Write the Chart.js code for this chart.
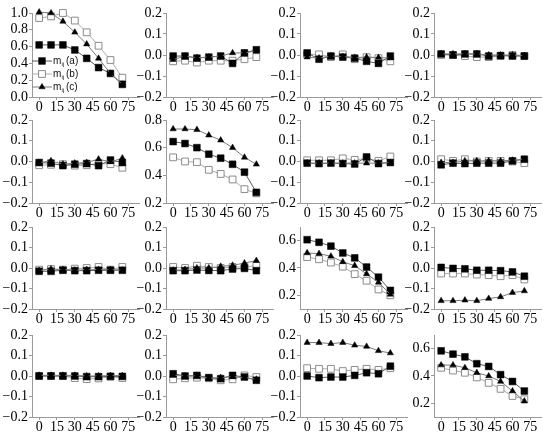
<!DOCTYPE html>
<html><head><meta charset="utf-8">
<script src="https://cdn.jsdelivr.net/npm/chart.js@4/dist/chart.umd.min.js"></script>
<style>
html,body{margin:0;padding:0;background:#fff;width:550px;height:436px;overflow:hidden}
#wrap{position:relative;width:550px;height:436px}
canvas{position:absolute}
</style></head><body><div id="wrap"></div>
<script>
// x positions (angle) and tick labels
const xValues = [0,10,20,30,40,50,60,70];
const xTicks = [0,15,30,45,60,75];
const xRange = [-6, 84];

// y ranges / ticks
const yRangeSmall = [-0.2, 0.2];
const yTicksSmall = [-0.2,-0.1,0.0,0.1,0.2];
const yRangeUnit = [0.0, 1.0];
const yTicksUnit = [0.0,0.2,0.4,0.6,0.8,1.0];
const yRangeMid = [0.2, 0.8];
const yTicksMid = [0.2,0.4,0.6,0.8];
const yRangeLow = [0.1, 0.7];
const yTicksLow = [0.2,0.4,0.6];

// series: m_ij(a) black squares, m_ij(b) open squares, m_ij(c) triangles
const p11_a = [0.62,0.62,0.62,0.56,0.46,0.35,0.28,0.15];
const p11_b = [0.94,0.96,1.0,0.91,0.77,0.61,0.44,0.23];
const p11_c = [1.01,1.0,0.9,0.77,0.63,0.46,0.28,0.15];

const p12_a = [-0.005,-0.005,-0.015,-0.01,-0.005,-0.04,0.01,0.025];
const p12_b = [-0.03,-0.027,-0.036,-0.027,-0.027,-0.027,-0.02,-0.01];
const p12_c = [-0.022,-0.005,-0.013,-0.01,-0.005,0.01,0.01,0.02];

const p13_a = [0.01,-0.02,-0.005,-0.01,-0.015,-0.03,-0.04,-0.005];
const p13_b = [0.003,0.003,-0.01,0.003,-0.02,-0.01,-0.015,-0.03];
const p13_c = [-0.01,-0.015,-0.005,-0.008,-0.012,-0.01,-0.012,-0.015];

const p14_a = [0.005,0.0,0.005,0.005,-0.005,-0.003,-0.005,-0.005];
const p14_b = [0.0,0.0,-0.005,-0.01,-0.01,-0.005,0.0,-0.005];
const p14_c = [0.005,0.005,0.005,0.005,0.0,0.0,0.0,-0.003];

const p21_a = [-0.005,-0.008,-0.02,-0.013,-0.01,-0.02,0.007,-0.005];
const p21_b = [-0.018,-0.016,-0.013,-0.02,-0.018,-0.008,-0.013,-0.03];
const p21_c = [-0.005,0.003,-0.013,-0.008,-0.005,0.011,-0.002,0.016];

const p22_a = [0.644,0.63,0.60,0.553,0.524,0.48,0.423,0.277];
const p22_b = [0.53,0.50,0.495,0.44,0.41,0.37,0.30,0.27];
const p22_c = [0.735,0.735,0.73,0.69,0.654,0.60,0.53,0.48];

const p23_a = [-0.008,-0.01,-0.008,-0.01,-0.012,0.022,-0.01,-0.005];
const p23_b = [0.006,0.006,0.006,0.015,0.008,0.015,0.003,0.024];
const p23_c = [-0.008,-0.008,-0.008,-0.008,-0.008,-0.008,-0.008,-0.005];

const p24_a = [-0.016,-0.008,-0.01,-0.008,-0.008,-0.008,0.003,0.011];
const p24_b = [0.011,0.003,0.011,0.0,0.003,0.003,0.0,-0.008];
const p24_c = [-0.005,-0.005,0.003,0.003,0.003,0.003,0.006,0.011];

const p31_a = [-0.016,-0.016,-0.011,-0.013,-0.013,-0.011,-0.011,-0.011];
const p31_b = [-0.008,-0.005,-0.008,-0.003,0.0,0.005,-0.008,0.005];
const p31_c = [-0.013,-0.005,-0.008,-0.011,-0.008,-0.008,-0.008,-0.011];

const p32_a = [-0.013,-0.013,-0.01,-0.012,-0.013,-0.005,-0.002,-0.013];
const p32_b = [0.005,0.0,0.011,0.005,0.0,0.005,0.005,0.011];
const p32_c = [-0.011,-0.008,0.0,0.0,0.008,0.013,0.024,0.036];

const p33_a = [0.607,0.588,0.56,0.51,0.474,0.407,0.333,0.236];
const p33_b = [0.48,0.464,0.44,0.41,0.355,0.307,0.243,0.2];
const p33_c = [0.51,0.505,0.486,0.445,0.417,0.357,0.295,0.207];

const p34_a = [0.003,-0.002,-0.004,-0.011,-0.011,-0.013,-0.019,-0.04];
const p34_b = [-0.027,-0.027,-0.027,-0.032,-0.035,-0.04,-0.035,-0.056];
const p34_c = [-0.16,-0.16,-0.157,-0.16,-0.149,-0.141,-0.12,-0.112];

const p41_a = [0.0,0.0,0.0,0.0,-0.003,-0.003,-0.002,-0.002];
const p41_b = [0.0,0.0,0.0,-0.01,-0.015,-0.012,-0.003,-0.01];
const p41_c = [0.003,0.003,0.003,0.003,0.0,0.0,0.002,0.002];

const p42_a = [0.011,0.0,0.003,-0.008,-0.013,0.003,-0.005,-0.021];
const p42_b = [-0.016,-0.011,-0.008,-0.011,-0.021,-0.016,0.003,-0.005];
const p42_c = [0.003,0.0,0.0,-0.011,-0.008,-0.003,-0.008,-0.016];

const p43_a = [0.0,-0.008,-0.005,-0.005,0.003,0.016,0.011,0.048];
const p43_b = [0.038,0.035,0.035,0.024,0.03,0.035,0.03,0.038];
const p43_c = [0.163,0.163,0.158,0.163,0.15,0.144,0.123,0.112];

const p44_a = [0.584,0.56,0.54,0.49,0.47,0.41,0.36,0.29];
const p44_b = [0.46,0.44,0.424,0.39,0.35,0.306,0.254,0.23];
const p44_c = [0.48,0.48,0.46,0.424,0.4,0.36,0.29,0.216];

const legendLabels = ['(a)','(b)','(c)'];

const panels = [
  [p11_a,p11_b,p11_c,yRangeUnit,yTicksUnit],
  [p12_a,p12_b,p12_c,yRangeSmall,yTicksSmall],
  [p13_a,p13_b,p13_c,yRangeSmall,yTicksSmall],
  [p14_a,p14_b,p14_c,yRangeSmall,yTicksSmall],
  [p21_a,p21_b,p21_c,yRangeSmall,yTicksSmall],
  [p22_a,p22_b,p22_c,yRangeMid,yTicksMid],
  [p23_a,p23_b,p23_c,yRangeSmall,yTicksSmall],
  [p24_a,p24_b,p24_c,yRangeSmall,yTicksSmall],
  [p31_a,p31_b,p31_c,yRangeSmall,yTicksSmall],
  [p32_a,p32_b,p32_c,yRangeSmall,yTicksSmall],
  [p33_a,p33_b,p33_c,yRangeLow,yTicksLow],
  [p34_a,p34_b,p34_c,yRangeSmall,yTicksSmall],
  [p41_a,p41_b,p41_c,yRangeSmall,yTicksSmall],
  [p42_a,p42_b,p42_c,yRangeSmall,yTicksSmall],
  [p43_a,p43_b,p43_c,yRangeSmall,yTicksSmall],
  [p44_a,p44_b,p44_c,yRangeLow,yTicksLow]
];

// layout (styling)
const colAxis = [32,166,300,434];
const rowTop = [13,120,227,335];
const rowH = [84,83,82,82];
const PADT=10, YW=32, XH=20, PADB=2, PADR=8, PW=107;
const AXIS_COLOR = '#9a9a9a';
const tickFont = {family:"'Liberation Serif', 'Times New Roman', serif", size:14};

function fmt(v){
  const s = Math.abs(v).toFixed(1);
  return v < -1e-9 ? '\u2212'+s : s;
}
function pts(arr){ return xValues.map((x,k)=>({x:x, y:arr[k]})); }

function drawLegendPoint(ctx, ds, x, y){
  ctx.save();
  ctx.fillStyle = ds.pointBackgroundColor;
  ctx.strokeStyle = ds.pointBorderColor;
  ctx.lineWidth = ds.pointBorderWidth;
  Chart.helpers.drawPoint(ctx, {pointStyle: ds.pointStyle, radius: ds.pointRadius, borderWidth: ds.pointBorderWidth, rotation:0}, x, y);
  ctx.restore();
}
const legendPlugin = {
  id:'mlegend',
  afterDatasetsDraw(chart){
    const ctx = chart.ctx;
    const ys = [58,71,84];
    ys.forEach((y,i)=>{
      const ds = chart.data.datasets.find(d=>d.key===i);
      ctx.save();
      ctx.strokeStyle = ds.borderColor; ctx.lineWidth = 1;
      ctx.beginPath(); ctx.moveTo(32,y); ctx.lineTo(52,y); ctx.stroke();
      ctx.restore();
      drawLegendPoint(ctx, ds, 42, y);
      ctx.save();
      ctx.fillStyle = '#111';
      ctx.textBaseline = 'middle';
      ctx.textAlign = 'left';
      ctx.font = '10px "Liberation Sans"';
      ctx.fillText('m', 53, y);
      ctx.font = '6px "Liberation Sans"';
      ctx.fillText('i', 61.5, y+3);
      ctx.fillText('j', 63, y+3);
      ctx.font = '10px "Liberation Sans"';
      ctx.fillText(legendLabels[i], 66, y);
      ctx.restore();
    });
  }
};

const wrap = document.getElementById('wrap');
panels.forEach((p,i)=>{
  const r = Math.floor(i/4), c = i%4;
  const cv = document.createElement('canvas');
  const W = YW+PW+PADR, H = PADT+rowH[r]+XH+PADB;
  cv.width=W; cv.height=H; cv.style.width=W+'px'; cv.style.height=H+'px';
  cv.style.left=(colAxis[c]-YW)+'px'; cv.style.top=(rowTop[r]-PADT)+'px';
  wrap.appendChild(cv);
  const yr = p[3], yt = p[4];
  new Chart(cv, {
    type:'line',
    data:{datasets:[
      {key:2, data:pts(p[2]), borderColor:'#7a7a7a', borderWidth:1, pointStyle:'triangle', pointRadius:3.6,
       pointBackgroundColor:'#000', pointBorderColor:'#000', pointBorderWidth:0.5, clip:false},
      {key:0, data:pts(p[0]), borderColor:'#5a5a5a', borderWidth:1, pointStyle:'rect', pointRadius:4.8,
       pointBackgroundColor:'#000', pointBorderColor:'#000', pointBorderWidth:0.5, clip:false},
      {key:1, data:pts(p[1]), borderColor:'#ababab', borderWidth:1, pointStyle:'rect', pointRadius:4.8,
       pointBackgroundColor:'#fff', pointBorderColor:'#8c8c8c', pointBorderWidth:1, clip:false}
    ]},
    options:{
      responsive:false, animation:false, devicePixelRatio:1,
      layout:{padding:{top:PADT,right:PADR,bottom:PADB,left:0}},
      plugins:{legend:{display:false}, tooltip:{enabled:false}},
      elements:{line:{tension:0}},
      scales:{
        x:{type:'linear', min:xRange[0], max:xRange[1],
           afterBuildTicks:s=>{ s.ticks = xTicks.map(v=>({value:v})); },
           afterFit:s=>{ s.height = XH; },
           ticks:{font:tickFont, color:'#000', padding:-1, maxRotation:0, autoSkip:false, callback:v=>String(v)},
           grid:{drawOnChartArea:false, drawTicks:true, tickLength:3, color:AXIS_COLOR},
           border:{color:AXIS_COLOR, width:1}},
        y:{type:'linear', min:yr[0], max:yr[1],
           afterBuildTicks:s=>{ s.ticks = yt.map(v=>({value:v})); },
           afterFit:s=>{ s.width = YW; },
           ticks:{font:tickFont, color:'#000', padding:1, autoSkip:false, callback:v=>fmt(v)},
           grid:{drawOnChartArea:false, drawTicks:true, tickLength:3, color:AXIS_COLOR},
           border:{color:AXIS_COLOR, width:1}}
      }
    },
    plugins: i===0 ? [legendPlugin] : []
  });
});
</script></body></html>
